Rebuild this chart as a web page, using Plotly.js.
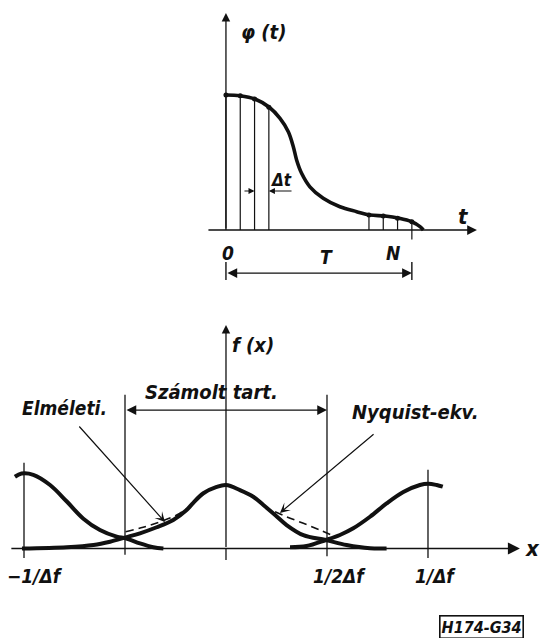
<!DOCTYPE html>
<html><head><meta charset="utf-8">
<script src="https://cdn.plot.ly/plotly-3.0.1.min.js"></script>
<style>html,body{margin:0;padding:0;background:#fff}#chart{width:540px;height:638px}</style>
</head><body><div id="chart"></div>
<script>
// ---- Top chart: phi(t) sampled with step Δt, N = 13 steps ----
const phiT = [0, 0.98, 2.03, 3.03, 3.78, 4.36, 4.71, 4.94, 5.29, 5.87, 6.8, 7.97, 9.14, 10.07, 11.12, 12.12, 12.99, 13.57, 13.8];
const phiV = [1.0, 0.995, 0.97, 0.909, 0.827, 0.728, 0.617, 0.519, 0.42, 0.32, 0.235, 0.172, 0.136, 0.111, 0.104, 0.087, 0.061, 0.025, 0.0];
const sampleT = [0, 1, 2, 3, 10, 11, 12, 13];
const sampleV = [1.0, 0.995, 0.97, 0.909, 0.111, 0.104, 0.087, 0.061];
const N = 13;

// ---- Bottom chart: f(x) and its aliases, x in units of 1/Δf ----
const leftX = [-1.045, -1.012, -0.954, -0.871, -0.788, -0.706, -0.624, -0.541, -0.496, -0.426, -0.36, -0.31];
const leftY = [1.13, 1.18, 1.16, 1.0, 0.74, 0.47, 0.29, 0.186, 0.16, 0.08, 0.02, 0.0];
const centX = [-1.01, -0.788, -0.656, -0.574, -0.496, -0.426, -0.343, -0.261, -0.195, -0.162, -0.112, -0.046, 0.0, 0.069, 0.135, 0.185, 0.243, 0.30, 0.383, 0.494, 0.597, 0.713, 0.795];
const centY = [0.0, 0.02, 0.055, 0.107, 0.176, 0.24, 0.335, 0.45, 0.606, 0.72, 0.87, 0.97, 1.0, 0.92, 0.815, 0.685, 0.528, 0.37, 0.21, 0.134, 0.055, 0.003, 0.0];
const rightX = [0.317, 0.399, 0.494, 0.564, 0.63, 0.713, 0.795, 0.878, 0.96, 1.001, 1.043, 1.073];
const rightY = [0.02, 0.04, 0.134, 0.213, 0.318, 0.50, 0.71, 0.89, 1.0, 1.02, 1.0, 0.973];
const dashLX = [-0.497, -0.41, -0.327, -0.244, -0.195];
const dashLY = [0.265, 0.334, 0.42, 0.528, 0.633];
const dashRX = [0.243, 0.30, 0.383, 0.465, 0.54];
const dashRY = [0.58, 0.50, 0.397, 0.29, 0.186];
const vlineX = [-1, -0.5, 0.5, 1];
const vlineTop = [1.35, 2.42, 2.42, 1.24];
const vlineBot = [-0.15, -0.1, -0.12, -0.15];
const tickLabels = ['−1/Δf', '1/2Δf', '1/Δf'];
const tickPos = [-0.946, 0.564, 1.035];

const FONT = 'DejaVu Sans Condensed, DejaVu Sans, sans-serif';
const K = '#111';

function segs(xs, lo, hi) {
  const X = [], Y = [];
  xs.forEach((x, i) => { X.push(x, x, null); Y.push(lo[i], hi[i], null); });
  return {X, Y};
}

const s1 = segs(sampleT, sampleT.map(() => 0), sampleV);
const vl = segs(vlineX, vlineBot, vlineTop);
const tt = segs([0, N], [-0.237, -0.237], [-0.37, -0.37]);

const traces = [
  {x: s1.X, y: s1.Y, xaxis: 'x', yaxis: 'y', mode: 'lines', line: {color: K, width: 1.2}},
  {x: [N, N], y: [0, -0.07], xaxis: 'x', yaxis: 'y', mode: 'lines', line: {color: K, width: 1.2}},
  {x: tt.X, y: tt.Y, xaxis: 'x', yaxis: 'y', mode: 'lines', line: {color: K, width: 1.4}},
  {x: phiT, y: phiV, xaxis: 'x', yaxis: 'y', mode: 'lines', line: {color: K, width: 3.6, shape: 'spline', smoothing: 1}},
  {x: sampleT, y: sampleV, xaxis: 'x', yaxis: 'y', mode: 'markers', marker: {color: K, size: 5}},
  {x: vl.X, y: vl.Y, xaxis: 'x2', yaxis: 'y2', mode: 'lines', line: {color: K, width: 1.3}},
  {x: [0, 0], y: [-0.18, 0], xaxis: 'x2', yaxis: 'y2', mode: 'lines', line: {color: K, width: 1.3}},
  {x: leftX, y: leftY, xaxis: 'x2', yaxis: 'y2', mode: 'lines', line: {color: K, width: 4, shape: 'spline', smoothing: 1}},
  {x: centX, y: centY, xaxis: 'x2', yaxis: 'y2', mode: 'lines', line: {color: K, width: 4, shape: 'spline', smoothing: 1}},
  {x: rightX, y: rightY, xaxis: 'x2', yaxis: 'y2', mode: 'lines', line: {color: K, width: 4, shape: 'spline', smoothing: 1}},
  {x: dashLX, y: dashLY, xaxis: 'x2', yaxis: 'y2', mode: 'lines', line: {color: K, width: 1.6, dash: '8px,5px', shape: 'spline'}},
  {x: dashRX, y: dashRY, xaxis: 'x2', yaxis: 'y2', mode: 'lines', line: {color: K, width: 1.6, dash: '8px,5px', shape: 'spline'}}
];

function arrow(ref, x, y, ax, ay, w, extra) {
  return Object.assign({xref: 'x' + ref, yref: 'y' + ref, axref: 'x' + ref, ayref: 'y' + ref,
    x: x, y: y, ax: ax, ay: ay, text: '', showarrow: true, arrowhead: 2, arrowsize: 1.3,
    arrowwidth: w, arrowcolor: K, standoff: 0, startstandoff: 0}, extra || {});
}
function label(ref, x, y, text, size, extra) {
  return Object.assign({xref: 'x' + ref, yref: 'y' + ref, x: x, y: y, text: '<b><i>' + text + '</i></b>',
    showarrow: false, xanchor: 'center', yanchor: 'middle',
    font: {family: FONT, size: size, color: K}}, extra || {});
}

const annotations = [
  // top chart axes
  arrow('', 0, 1.607, 0, 0, 1.3),
  arrow('', 17.55, 0, -1.33, 0, 1.5),
  arrow('', N, -0.319, 0, -0.319, 1.3, {arrowside: 'end+start', arrowsize: 1.5}),
  arrow('', 2, 0.289, 1.19, 0.289, 1.1, {arrowsize: 1.1}),
  arrow('', 3, 0.289, 4.69, 0.289, 1.1, {arrowsize: 1.1}),
  label('', 2.65, 1.467, 'φ (t)', 20),
  label('', 16.6, 0.1, 't', 22),
  label('', 0.15, -0.17, '0', 19),
  label('', 11.7, -0.17, 'N', 19),
  label('', 7.06, -0.2, 'T', 19),
  label('', 3.85, 0.37, 'Δt', 17),
  // bottom chart axes
  arrow('2', 0, 3.52, 0, 0, 1.3),
  arrow('2', 1.455, 0, -1.07, 0, 1.5, {arrowsize: 1.6}),
  arrow('2', 0.5, 2.18, -0.5, 2.18, 1.3, {arrowside: 'end+start', arrowsize: 1.5}),
  arrow('2', -0.302, 0.417, -0.733, 1.945, 1.2, {arrowhead: 3, arrowsize: 1.4}),
  arrow('2', 0.267, 0.56, 0.738, 1.82, 1.2, {arrowhead: 3, arrowsize: 1.4}),
  label('2', 0.134, 3.2, 'f (x)', 20),
  label('2', -0.074, 2.46, 'Számolt tart.', 20),
  label('2', -0.80, 2.21, 'Elméleti.', 19),
  label('2', 0.94, 2.15, 'Nyquist-ekv.', 20),
  label('2', 1.515, 0, 'x', 22)
];
tickLabels.forEach((t, i) => annotations.push(label('2', tickPos[i], -0.43, t, 19)));
annotations.push({xref: 'paper', yref: 'paper', x: 0.892, y: 0.018, text: '<b><i>H174-G34</i></b>',
  showarrow: false, xanchor: 'center', yanchor: 'middle', bordercolor: K, borderwidth: 1.6, borderpad: 1,
  font: {family: FONT, size: 16, color: K}});

const hid = {visible: false, fixedrange: true};
const layout = {
  width: 540, height: 638, margin: {l: 0, r: 0, t: 0, b: 0},
  paper_bgcolor: '#fff', plot_bgcolor: 'rgba(0,0,0,0)', showlegend: false,
  xaxis: Object.assign({domain: [0, 1], range: [-15.8, 21.96], anchor: 'y'}, hid),
  yaxis: Object.assign({domain: [0.5, 1], range: [-0.6593, 1.7037], anchor: 'x'}, hid),
  xaxis2: Object.assign({domain: [0, 1], range: [-1.1188, 1.5545], anchor: 'y2'}, hid),
  yaxis2: Object.assign({domain: [0, 0.5], range: [-1.409, 3.614], anchor: 'x2'}, hid),
  annotations: annotations
};
Plotly.newPlot('chart', traces, layout, {staticPlot: true, displayModeBar: false});
</script></body></html>
